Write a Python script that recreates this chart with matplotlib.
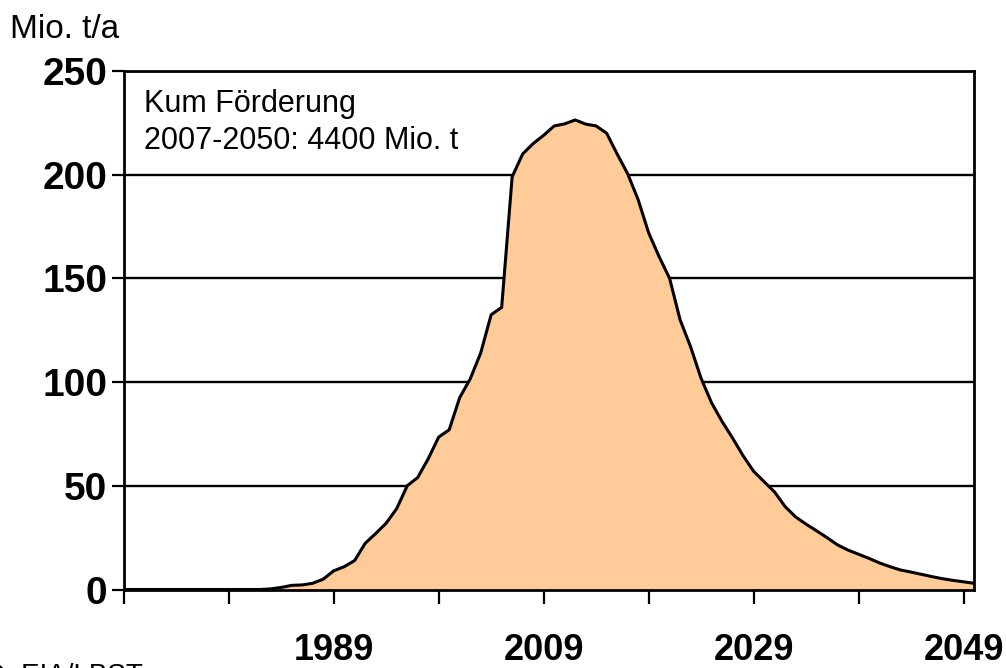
import matplotlib
matplotlib.use("Agg")
import matplotlib.pyplot as plt
import numpy as np

plt.rcParams['font.family'] = ['Liberation Sans', 'DejaVu Sans']

years = list(range(1969, 2051))
production = [
    0, 0, 0, 0, 0, 0, 0, 0, 0, 0,          # 1969-1978
    0, 0, 0, 0, 0.3, 1.0, 2.0, 2.2, 3.0, 5.0,  # 1979-1988
    9.0, 11.0, 14.0, 22.3, 27.0, 32.0, 39.0, 50.0, 54.0, 63.0,  # 1989-1998
    73.5, 77.0, 92.5, 101.5, 114.0, 132.5, 136.0, 199.0, 210.0, 215.0,  # 1999-2008
    219.0, 223.5, 224.5, 226.4, 224.4, 223.5, 220.0, 210.0, 200.5, 188.0,  # 2009-2018
    172.0, 160.5, 150.0, 130.0, 117.0, 101.8, 90.0, 81.0, 73.0, 64.5,  # 2019-2028
    57.0, 52.0, 47.0, 40.0, 35.0, 31.5, 28.3, 25.0, 21.5, 19.0,  # 2029-2038
    17.0, 15.0, 12.8, 11.0, 9.4, 8.4, 7.3, 6.2, 5.2, 4.4,  # 2039-2048
    3.7, 3.0,  # 2049-2050
]
y_ticks = [0, 50, 100, 150, 200, 250]
x_tick_positions = list(range(1969, 2050, 10))
x_label_years = [1989, 2009, 2029, 2049]

fig = plt.figure(figsize=(10.06, 6.68), dpi=100)
ax = fig.add_axes([123.8 / 1006, 78.5 / 668, (974 - 123.8) / 1006, (589.5 - 71) / 668])

ax.fill_between(years, production, 0, color='#FFCC99', zorder=2, linewidth=0)
ax.plot(years, production, color='black', linewidth=2.2, zorder=3, solid_joinstyle='round')

ax.set_xlim(1969, 2050)
ax.set_ylim(0, 250)
ax.set_yticks(y_ticks)
ax.set_yticklabels([str(v) for v in y_ticks], fontsize=28, fontweight='bold')
ax.set_xticks(x_tick_positions)
ax.set_xticklabels([str(y) if y in x_label_years else '' for y in x_tick_positions],
                   fontsize=26, fontweight='bold')
ax.tick_params(axis='x', direction='out', length=10, width=1.6, pad=21, colors='black')
ax.tick_params(axis='y', direction='out', length=9, width=1.6, pad=3, colors='black')

ax.grid(axis='y', color='black', linewidth=1.7, zorder=1)
ax.set_axisbelow(True)
for s in ax.spines.values():
    s.set_color('black')
    s.set_linewidth(2.0)
    s.set_zorder(4)

ax.text(0.024, 0.965, 'Kum Förderung\n2007-2050: 4400 Mio. t', transform=ax.transAxes,
        fontsize=22, va='top', ha='left', linespacing=1.28,
        bbox=dict(facecolor='white', edgecolor='none', pad=1), zorder=5)

fig.text(10 / 1006, 1 - 30 / 668, 'Mio. t/a', fontsize=24, va='center', ha='left')
fig.text(-16 / 1006, 1 - 682 / 668, 'O, EIA/LBST', fontsize=20, va='baseline', ha='left')

fig.savefig('out.png', dpi=100)
